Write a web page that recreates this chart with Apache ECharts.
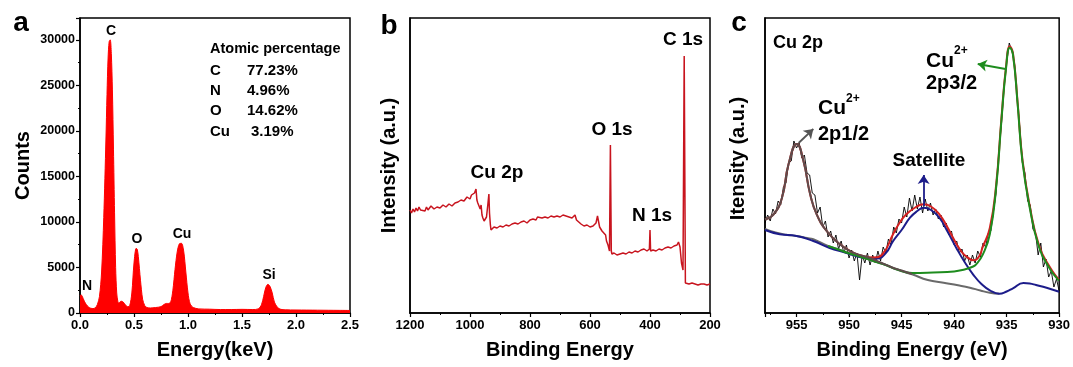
<!DOCTYPE html>
<html>
<head>
<meta charset="utf-8">
<script src="https://cdn.jsdelivr.net/npm/echarts@6/dist/echarts.min.js"></script>
<style>
  html, body { margin: 0; padding: 0; background: #fff; }
  #chart { width: 1073px; height: 367px; }
</style>
</head>
<body>
<div id="chart"></div>
<script>
// (a) EDS spectrum: [energy keV, counts]
const edsSpectrum = [
  [0.00, 1900], [0.01, 2000], [0.02, 1850], [0.04, 1300], [0.06, 900], [0.08, 650], [0.10, 520],
  [0.12, 480], [0.14, 560], [0.16, 900], [0.18, 1800], [0.20, 4500], [0.22, 10500], [0.24, 19000],
  [0.25, 24000], [0.26, 28000], [0.27, 29800], [0.28, 30000], [0.29, 28500], [0.30, 24500],
  [0.31, 18000], [0.32, 11000], [0.33, 5000], [0.34, 2200], [0.35, 1300], [0.36, 1100], [0.38, 1300],
  [0.40, 1200], [0.42, 900], [0.44, 700], [0.46, 800], [0.48, 2200], [0.50, 5500], [0.52, 7100],
  [0.53, 7000], [0.54, 6200], [0.56, 3600], [0.58, 1500], [0.60, 800], [0.62, 600], [0.65, 550],
  [0.70, 600], [0.75, 700], [0.78, 950], [0.80, 1050], [0.82, 1050], [0.84, 1200], [0.86, 2500],
  [0.88, 4800], [0.90, 6700], [0.92, 7600], [0.94, 7650], [0.96, 6800], [0.98, 4500], [1.00, 2200],
  [1.02, 1000], [1.05, 600], [1.10, 450], [1.20, 420], [1.30, 380], [1.40, 380], [1.50, 400],
  [1.60, 380], [1.65, 450], [1.68, 900], [1.70, 1800], [1.72, 2800], [1.74, 3150], [1.76, 2900],
  [1.78, 2200], [1.80, 1200], [1.83, 600], [1.86, 400], [1.90, 350], [2.00, 330], [2.10, 320],
  [2.20, 310], [2.30, 300], [2.40, 290], [2.50, 280]
]
const edsPeaks = ['C', 'O', 'Cu', 'Si', 'N']
const atomicElements = ['C', 'N', 'O', 'Cu']
const atomicPercent = ['77.23%', '4.96%', '14.62%', '3.19%']

// (b) XPS survey: [binding energy eV, intensity a.u.]
const surveySpectrum = [
  [1200, 103], [1195, 100], [1190, 104], [1185, 101], [1180, 105], [1175, 102], [1170, 106],
  [1165, 103], [1160, 104], [1150, 102], [1145, 106], [1140, 103], [1130, 107], [1120, 104],
  [1110, 106], [1100, 105], [1090, 108], [1080, 106], [1070, 109], [1060, 107], [1050, 110],
  [1040, 111], [1030, 113], [1020, 112], [1010, 116], [1000, 114], [995, 118], [990, 117],
  [985, 120], [980, 124], [977, 113], [974, 110], [970, 112], [966, 104], [963, 108], [960, 98],
  [957, 95], [953, 92], [950, 90], [945, 96], [940, 110], [937, 119], [935, 100], [932, 88],
  [930, 83], [925, 84], [920, 86], [910, 85], [900, 87], [890, 86], [880, 88], [870, 87],
  [860, 89], [850, 90], [840, 89], [830, 91], [820, 92], [810, 90], [800, 93], [790, 94],
  [780, 93], [775, 96], [770, 94], [760, 95], [750, 96], [740, 95], [730, 97], [720, 96],
  [710, 97], [700, 96], [690, 98], [680, 97], [670, 96], [660, 95], [650, 98], [645, 93],
  [640, 91], [630, 89], [620, 87], [610, 88], [600, 86], [590, 87], [580, 90], [575, 97],
  [572, 96], [568, 86], [560, 82], [555, 80], [548, 78], [545, 72], [540, 68], [535, 62],
  [532, 168], [529, 62], [527, 59], [520, 60], [510, 58], [500, 59], [490, 60], [480, 59],
  [470, 61], [460, 60], [450, 62], [440, 61], [430, 63], [420, 64], [410, 62], [402, 64],
  [400, 83], [398, 62], [395, 61], [390, 63], [380, 62], [370, 64], [360, 63], [350, 65],
  [340, 66], [330, 65], [320, 67], [310, 68], [305, 71], [300, 66], [295, 50], [290, 43],
  [286, 257], [282, 30], [278, 30], [270, 29], [260, 30], [250, 29], [240, 28], [230, 29],
  [220, 29], [210, 28], [200, 29]
]
const surveyPeaks = ['C 1s', 'O 1s', 'N 1s', 'Cu 2p']

// (c) Cu 2p high resolution: [binding energy eV, intensity a.u.]
const cuRaw = [
  [958.0, 90], [957.75, 98], [957.5, 92], [957.25, 104], [957.0, 99], [956.75, 112], [956.5, 108],
  [956.25, 126], [956.0, 130], [955.75, 150], [955.5, 152], [955.25, 172], [955.0, 165],
  [954.75, 170], [954.5, 155], [954.25, 158], [954.0, 140], [953.75, 138], [953.5, 120],
  [953.25, 118], [953.0, 100], [952.75, 106], [952.5, 86], [952.25, 92], [952.0, 76],
  [951.75, 82], [951.5, 70], [951.25, 78], [951.0, 64], [950.75, 72], [950.5, 60], [950.25, 68],
  [950.0, 55], [949.75, 63], [949.5, 52], [949.25, 60], [949.0, 33], [948.75, 58], [948.5, 50],
  [948.25, 60], [948.0, 48], [947.75, 58], [947.5, 50], [947.25, 62], [947.0, 52], [946.75, 66],
  [946.5, 60], [946.25, 74], [946.0, 68], [945.75, 86], [945.5, 80], [945.25, 94], [945.0, 90],
  [944.75, 106], [944.5, 96], [944.25, 115], [944.0, 102], [943.75, 118], [943.5, 104],
  [943.25, 116], [943.0, 100], [942.75, 114], [942.5, 102], [942.25, 110], [942.0, 98],
  [941.75, 104], [941.5, 94], [941.25, 98], [941.0, 86], [940.75, 90], [940.5, 78], [940.25, 82],
  [940.0, 68], [939.75, 72], [939.5, 60], [939.25, 64], [939.0, 52], [938.75, 58], [938.5, 48],
  [938.25, 58], [938.0, 50], [937.75, 62], [937.5, 56], [937.25, 70], [937.0, 66], [936.75, 80],
  [936.5, 82], [936.25, 102], [936.0, 120], [935.75, 160], [935.5, 188], [935.25, 225],
  [935.0, 250], [934.75, 270], [934.5, 262], [934.25, 250], [934.0, 214], [933.75, 186],
  [933.5, 150], [933.25, 140], [933.0, 112], [932.75, 108], [932.5, 84], [932.25, 80],
  [932.0, 58], [931.75, 70], [931.5, 46], [931.25, 54], [931.0, 36], [930.75, 42], [930.5, 26],
  [930.25, 34], [930.0, 22]
]
const cuBackground = [
  [958, 84], [957, 80.5], [956, 78.3], [955, 77], [954, 75], [953.4, 73.7], [952, 67], [951, 63.5],
  [950.2, 60.3], [949, 56.5], [947.7, 52], [946.5, 48], [945.5, 43.7], [944, 38.7], [942.5, 33],
  [941, 30.3], [939.5, 27.5], [938.5, 25.3], [937.5, 22.5], [936.6, 20.3], [935.7, 19.3]
]
const cuSatellite = [
  [958, 83], [956.6, 78.7], [955, 77], [953.4, 72], [951.9, 65.3], [950.3, 60.3], [948.7, 55.3],
  [947.4, 54.3], [946.5, 60], [945.8, 72], [945, 83], [944.2, 95.3], [943.5, 102], [942.9, 105.3],
  [942.2, 103], [941.4, 95.3], [940.6, 81], [939.8, 65.3], [939, 51], [938.2, 38.7], [937.4, 29],
  [936.6, 22.7], [935.7, 19.3], [935, 21.5], [934.4, 24.7], [933.4, 30], [932.8, 29.5],
  [932.2, 28], [931.2, 25.3], [930, 21.3]
]
const cu2p32 = [
  [952, 67], [951, 63.5], [950.2, 60.3], [949, 56.5], [947.7, 52], [946.5, 48], [945.5, 43.7],
  [944, 40], [942, 40.5], [940, 41.5], [939, 43.5], [938.3, 46], [937.9, 48.7], [937.26, 58.7],
  [936.6, 78.7], [936.0, 125.3], [935.5, 192], [935.05, 245.3], [934.7, 265.3], [934.4, 258.7],
  [933.95, 208.7], [933.5, 152], [932.8, 105.3], [931.9, 65.3], [930.95, 45.3], [930.15, 33.7],
  [930, 33]
]
const cu2p12 = [
  [958, 93.7], [957.18, 98.7], [956.39, 115], [955.76, 148.7], [954.97, 169], [954.34, 152],
  [953.7, 118.7], [953.08, 98.7], [952.13, 82], [950.86, 68.7], [949.6, 60.3], [948.02, 55],
  [947, 50.5], [946, 46], [945, 42.5], [944, 39]
]
const cuEnvelope = [
  [958, 93.7], [957.18, 98.7], [956.39, 115], [955.76, 148.7], [954.97, 169], [954.34, 152],
  [953.7, 118.7], [953.08, 98.7], [952.13, 82], [950.86, 68.7], [949.6, 60.3], [948.7, 57],
  [947.7, 55.5], [946.8, 59], [945.8, 79], [945.2, 90], [944.55, 98.7], [943.7, 105.5],
  [942.9, 108.7], [942.2, 106.5], [941.4, 98.7], [940.7, 87], [940.1, 75.3], [939.5, 64.5],
  [938.9, 57], [938.1, 52.7], [937.6, 57], [937.3, 65.3], [936.6, 85], [936, 128], [935.5, 194],
  [935.05, 247], [934.7, 266.5], [934.4, 260], [933.95, 210], [933.5, 154], [932.8, 107],
  [931.9, 67], [930.95, 47], [930.15, 35], [930, 34]
]

const FONT = 'Arial, "Liberation Sans", sans-serif'
const bold = (size) => 'bold ' + size + 'px ' + FONT

function txt(text, x, y, size, align, color) {
  return {
    type: 'text', x: x, y: y, silent: true,
    style: { text: text, font: bold(size), fill: color || '#000', align: align || 'center', verticalAlign: 'middle' }
  }
}

function xAxisBase(idx) {
  return {
    type: 'value', gridIndex: idx,
    axisLine: { show: true, onZero: false, lineStyle: { color: '#000', width: 1.5 } },
    axisTick: { show: true, length: 4, lineStyle: { color: '#000', width: 1.2 } },
    minorTick: { show: true, splitNumber: 2, length: 2, lineStyle: { color: '#000' } },
    splitLine: { show: false },
    axisLabel: { color: '#000', fontSize: 13, fontWeight: 'bold', fontFamily: FONT, margin: 6 },
    nameLocation: 'middle',
    nameTextStyle: { color: '#000', fontSize: 20, fontWeight: 'bold', fontFamily: FONT }
  }
}

const chart = echarts.init(document.getElementById('chart'), null, { renderer: 'canvas' })

const graphics = [
  txt('a', 21, 23, 28), txt('b', 389, 26, 28), txt('c', 739, 23, 28),
  // panel a annotations
  txt(edsPeaks[0], 111, 31, 14), txt(edsPeaks[1], 137, 239, 14), txt(edsPeaks[2], 182, 234, 14),
  txt(edsPeaks[3], 269, 275, 14), txt(edsPeaks[4], 87, 286, 14),
  txt('Atomic percentage', 210, 49, 14.5, 'left'),
  // panel b annotations
  txt(surveyPeaks[0], 683, 40, 19), txt(surveyPeaks[1], 612, 130, 19),
  txt(surveyPeaks[2], 652, 216, 19), txt(surveyPeaks[3], 497, 173, 19),
  // panel c annotations
  txt('Cu 2p', 773, 43, 18, 'left'),
  txt('Cu', 926, 61, 21, 'left'), txt('2+', 954, 51, 12, 'left'), txt('2p3/2', 926, 83, 20, 'left'),
  txt('Cu', 818, 108, 21, 'left'), txt('2+', 846, 99, 12, 'left'), txt('2p1/2', 818, 134, 20, 'left'),
  txt('Satellite', 929, 161, 19)
]
atomicElements.forEach((el, i) => {
  const y = [70.5, 91, 111, 131.5][i]
  graphics.push(txt(el, 210, y, 15, 'left'))
  graphics.push(txt(atomicPercent[i], el === 'Cu' ? 251 : 247, y, 15, 'left'))
})

function arrow(from, to, color) {
  return {
    silent: true, animation: false,
    symbol: ['none', 'arrow'], symbolSize: 9,
    label: { show: false },
    lineStyle: { color: color, width: 1.8, type: 'solid' },
    data: [[{ coord: from }, { coord: to }]]
  }
}

const option = {
  animation: false,
  backgroundColor: '#fff',
  grid: [
    { left: 80, right: 723, top: 18, bottom: 54, show: true, borderColor: '#000', borderWidth: 1.5 },
    { left: 410, right: 363, top: 18, bottom: 54, show: true, borderColor: '#000', borderWidth: 1.5 },
    { left: 765, right: 13, top: 18, bottom: 54, show: true, borderColor: '#000', borderWidth: 1.5 }
  ],
  xAxis: [
    Object.assign(xAxisBase(0), {
      min: 0, max: 2.5, interval: 0.5, name: 'Energy(keV)', nameGap: 27,
      axisLabel: Object.assign(xAxisBase(0).axisLabel, { formatter: (v) => v.toFixed(1) })
    }),
    Object.assign(xAxisBase(1), {
      min: 200, max: 1200, interval: 200, inverse: true, name: 'Binding Energy', nameGap: 27,
      axisLabel: Object.assign(xAxisBase(1).axisLabel, { formatter: (v) => String(v) })
    }),
    Object.assign(xAxisBase(2), {
      min: 930, max: 958, interval: 5, inverse: true, name: 'Binding Energy (eV)', nameGap: 27,
      axisLabel: Object.assign(xAxisBase(2).axisLabel, { formatter: (v) => (v % 5 === 0 ? String(v) : '') })
    })
  ],
  yAxis: [
    {
      type: 'value', gridIndex: 0, min: 0, max: 32400, interval: 5000,
      name: 'Counts', nameLocation: 'middle', nameGap: 47,
      nameTextStyle: { color: '#000', fontSize: 20, fontWeight: 'bold', fontFamily: FONT },
      axisLine: { show: true, lineStyle: { color: '#000', width: 1.5 } },
      axisTick: { show: true, length: 4, lineStyle: { color: '#000', width: 1.2 } },
      minorTick: { show: true, splitNumber: 2, length: 2, lineStyle: { color: '#000' } },
      splitLine: { show: false },
      axisLabel: {
        color: '#000', fontSize: 12.5, fontWeight: 'bold', fontFamily: FONT, margin: 5,
        formatter: (v) => (v % 5000 === 0 ? String(v) : '')
      }
    },
    {
      type: 'value', gridIndex: 1, min: 0, max: 295,
      name: 'Intensity (a.u.)', nameLocation: 'middle', nameGap: 11,
      nameTextStyle: { color: '#000', fontSize: 20, fontWeight: 'bold', fontFamily: FONT },
      axisLine: { show: true, lineStyle: { color: '#000', width: 1.5 } },
      axisTick: { show: false }, axisLabel: { show: false }, splitLine: { show: false }
    },
    {
      type: 'value', gridIndex: 2, min: 0, max: 295,
      name: 'Itensity (a.u.)', nameLocation: 'middle', nameGap: 17,
      nameTextStyle: { color: '#000', fontSize: 20, fontWeight: 'bold', fontFamily: FONT, padding: [0, 0, 0, 14] },
      axisLine: { show: true, lineStyle: { color: '#000', width: 1.5 } },
      axisTick: { show: false }, axisLabel: { show: false }, splitLine: { show: false }
    }
  ],
  series: [
    {
      name: 'EDS', type: 'line', xAxisIndex: 0, yAxisIndex: 0, data: edsSpectrum,
      showSymbol: false, smooth: 0.3,
      lineStyle: { color: '#ff0000', width: 1 },
      areaStyle: { color: '#ff0000', opacity: 1 }
    },
    {
      name: 'Survey', type: 'line', xAxisIndex: 1, yAxisIndex: 1, data: surveySpectrum,
      showSymbol: false, lineStyle: { color: '#c8141e', width: 1.5 }
    },
    {
      name: 'Raw', type: 'line', xAxisIndex: 2, yAxisIndex: 2, data: cuRaw,
      showSymbol: false, lineStyle: { color: '#000', width: 0.9 }
    },
    {
      name: 'Background', type: 'line', xAxisIndex: 2, yAxisIndex: 2, data: cuBackground,
      showSymbol: false, smooth: true, lineStyle: { color: '#6a6a6a', width: 2 }
    },
    {
      name: 'Satellite', type: 'line', xAxisIndex: 2, yAxisIndex: 2, data: cuSatellite,
      showSymbol: false, smooth: true, lineStyle: { color: '#1c1c8a', width: 2 },
      markLine: arrow([942.9, 107], [942.9, 138], '#1c1c8a')
    },
    {
      name: 'Envelope', type: 'line', xAxisIndex: 2, yAxisIndex: 2, data: cuEnvelope,
      showSymbol: false, smooth: true, lineStyle: { color: '#d42020', width: 2 }
    },
    {
      name: '2p3/2', type: 'line', xAxisIndex: 2, yAxisIndex: 2, data: cu2p32,
      showSymbol: false, smooth: true, lineStyle: { color: '#1e8c1e', width: 2 },
      markLine: arrow([935.1, 244], [937.75, 249], '#1e8c1e')
    },
    {
      name: '2p1/2', type: 'line', xAxisIndex: 2, yAxisIndex: 2, data: cu2p12,
      showSymbol: false, smooth: true, lineStyle: { color: '#5e4c4c', width: 2 },
      markLine: arrow([954.8, 170], [953.4, 184], '#555')
    }
  ],
  graphic: graphics
}

chart.setOption(option)
</script>
</body>
</html>
